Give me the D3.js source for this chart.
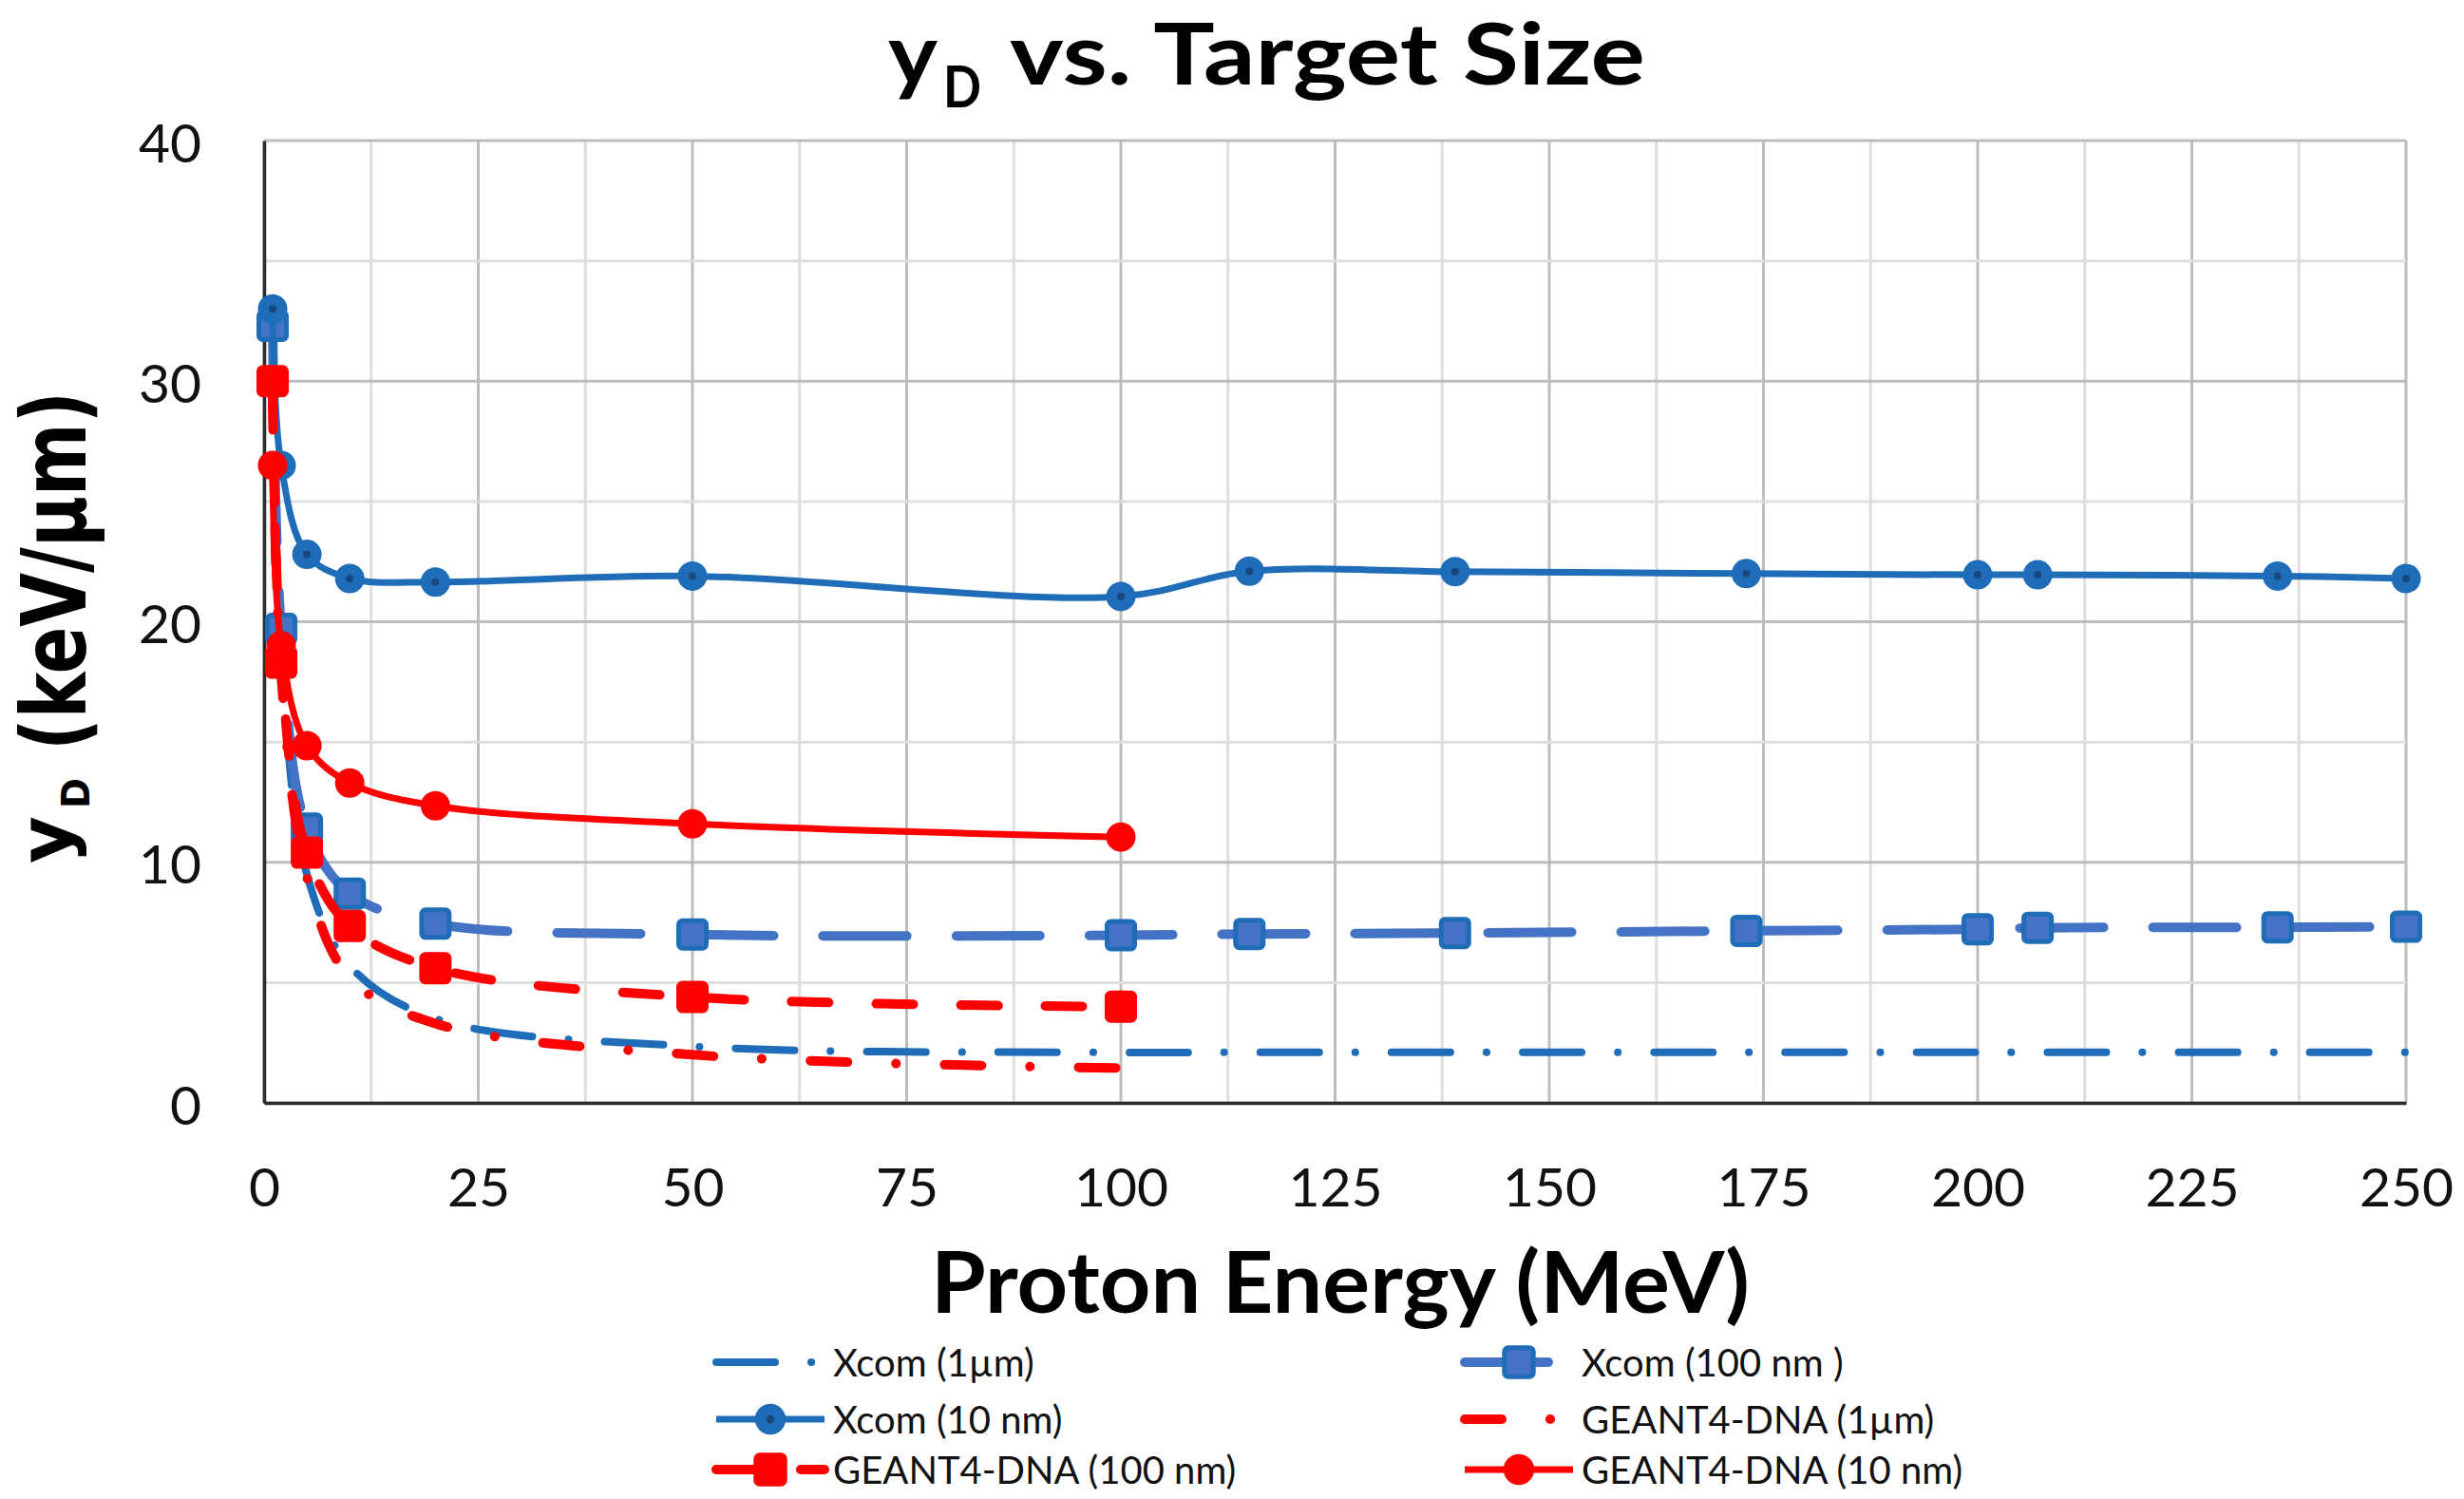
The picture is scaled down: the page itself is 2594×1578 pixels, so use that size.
<!DOCTYPE html>
<html>
<head>
<meta charset="utf-8">
<script src="https://cdn.jsdelivr.net/npm/d3@7"></script>
<style>
  html, body { margin: 0; padding: 0; background: #fff; }
  svg { display: block; }
</style>
</head>
<body>
<svg id="chart" width="2594" height="1578"></svg>
<script>
// ---------------- DATA ----------------
const xcomEnergy = [1, 2, 5, 10, 20, 50, 100, 115, 139, 173, 200, 207, 235, 250];
const xcom1um   = [32.0, 19.0, 9.5, 5.7, 3.5, 2.35, 2.1, 2.1, 2.1, 2.1, 2.1, 2.1, 2.1, 2.1];
const xcom100nm = [32.3, 19.7, 11.4, 8.7, 7.45, 7.0, 6.97, 7.02, 7.06, 7.15, 7.22, 7.28, 7.3, 7.32];
const xcom10nm  = [33.0, 26.5, 22.8, 21.8, 21.65, 21.9, 21.05, 22.1, 22.08, 22.0, 21.95, 21.95, 21.9, 21.8];

const geantEnergy = [1, 2, 5, 10, 20, 50, 100];
const geant1um   = [29.5, 17.8, 9.4, 5.2, 3.3, 2.0, 1.45];
const geant100nm = [30.0, 18.3, 10.4, 7.35, 5.6, 4.4, 4.0];
const geant10nm  = [26.5, 19.0, 14.85, 13.3, 12.35, 11.6, 11.05];

const xTicks = [0, 25, 50, 75, 100, 125, 150, 175, 200, 225, 250];
const yTicks = [0, 10, 20, 30, 40];
const seriesNames = ["Xcom (1\u00b5m)", "Xcom (100 nm )", "Xcom (10 nm)", "GEANT4-DNA (1\u00b5m)", "GEANT4-DNA (100 nm)", "GEANT4-DNA (10 nm)"];
const titleMain = "vs. Target Size";
const xTitle = "Proton Energy (MeV)";
const yTitleUnit = "(keV/\u00b5m)";

// ---------------- STYLES ----------------
const BLUE = "#1F6DB8", BLUE2 = "#4472C4", RED = "#FF0000";
const series = [
  { name: seriesNames[0], xs: xcomEnergy, ys: xcom1um, color: BLUE, width: 8, dash: "62,38,0.1,38", cap: "round", marker: null },
  { name: seriesNames[1], xs: xcomEnergy, ys: xcom100nm, color: BLUE2, width: 10, dash: "88,52", cap: "round", marker: "square", mfill: BLUE2, mstroke: BLUE },
  { name: seriesNames[2], xs: xcomEnergy, ys: xcom10nm, color: BLUE, width: 7, dash: null, cap: "round", marker: "circle", mfill: BLUE, mstroke: BLUE },
  { name: seriesNames[3], xs: geantEnergy, ys: geant1um, color: RED, width: 10, dash: "39,51,0.1,51", cap: "round", marker: null },
  { name: seriesNames[4], xs: geantEnergy, ys: geant100nm, color: RED, width: 10, dash: "39,50", cap: "round", marker: "square", mfill: RED, mstroke: RED },
  { name: seriesNames[5], xs: geantEnergy, ys: geant10nm, color: RED, width: 7, dash: null, cap: "round", marker: "circle", mfill: RED, mstroke: RED }
];

const svg = d3.select("#chart");
const plot = { left: 278, right: 2533, top: 148, bottom: 1161 };
const x = d3.scaleLinear().domain([0, 250]).range([plot.left, plot.right]);
const y = d3.scaleLinear().domain([0, 40]).range([plot.bottom, plot.top]);

// ---------------- GRID ----------------
const grid = svg.append("g");
const xMinor = d3.range(0, 250.01, 12.5);
const yMinor = d3.range(0, 40.01, 5);
grid.selectAll("line.vx").data(xMinor).enter().append("line")
  .attr("x1", d => x(d)).attr("x2", d => x(d)).attr("y1", plot.top).attr("y2", plot.bottom)
  .attr("stroke", d => (d % 25 === 0 ? "#bdbdbd" : "#dedede")).attr("stroke-width", 3);
grid.selectAll("line.hy").data(yMinor).enter().append("line")
  .attr("y1", d => y(d)).attr("y2", d => y(d)).attr("x1", plot.left).attr("x2", plot.right)
  .attr("stroke", d => (d % 10 === 0 ? "#bdbdbd" : "#dedede")).attr("stroke-width", 3);

// ---------------- AXES ----------------
const xAxis = d3.axisBottom(x).tickValues(xTicks).tickSize(0).tickPadding(0);
const xg = svg.append("g").attr("transform", `translate(0,${plot.bottom})`).call(xAxis);
xg.select(".domain").attr("stroke", "#2b2b2b").attr("stroke-width", 3.5);
xg.selectAll("text").attr("font-family", "Lato, 'Open Sans', sans-serif").attr("font-size", 57)
  .attr("fill", "#111").attr("dy", null).attr("y", 87).attr("dominant-baseline", "central");

const yAxis = d3.axisLeft(y).tickValues(yTicks).tickSize(0).tickPadding(0);
const yg = svg.append("g").attr("transform", `translate(${plot.left},0)`).call(yAxis);
yg.select(".domain").attr("stroke", "#2b2b2b").attr("stroke-width", 3.5);
yg.selectAll("text").attr("font-family", "Lato, 'Open Sans', sans-serif").attr("font-size", 57)
  .attr("fill", "#111").attr("x", -66).attr("dy", null).attr("dominant-baseline", "central");

// ---------------- SERIES ----------------
const line = d3.line().x(d => x(d[0])).y(d => y(d[1])).curve(d3.curveCatmullRom.alpha(0.5));
const layer = svg.append("g");

function drawMarker(g, type, cx, cy, s, scale) {
  const k = scale || 1;
  if (type === "circle") {
    g.append("circle").attr("cx", cx).attr("cy", cy).attr("r", 14.5 * k)
      .attr("fill", s.mfill).attr("stroke", s.mstroke).attr("stroke-width", 2);
    if (s.color === BLUE) {
      g.append("circle").attr("cx", cx).attr("cy", cy).attr("r", 4 * k).attr("fill", "#173f6e").attr("opacity", 0.8);
    }
  } else if (type === "square") {
    const h = 14.5 * k;
    g.append("rect").attr("x", cx - h).attr("y", cy - h).attr("width", 2 * h).attr("height", 2 * h)
      .attr("rx", 4).attr("fill", s.mfill).attr("stroke", s.mstroke).attr("stroke-width", 5);
  }
}

series.forEach(s => {
  const pts = s.xs.map((v, i) => [v, s.ys[i]]);
  const g = layer.append("g");
  g.append("path").attr("d", line(pts)).attr("fill", "none")
    .attr("stroke", s.color).attr("stroke-width", s.width)
    .attr("stroke-linecap", s.cap).attr("stroke-linejoin", "round")
    .attr("stroke-dasharray", s.dash);
  if (s.marker) {
    pts.forEach(p => drawMarker(g, s.marker, x(p[0]), y(p[1]), s));
  }
});

// ---------------- TITLES ----------------
const boldFont = "Lato, 'Open Sans', sans-serif";
svg.append("text").attr("x", 935).attr("y", 89).attr("font-family", boldFont).attr("font-weight", 700)
  .attr("font-size", 90).attr("fill", "#000").attr("textLength", 52).attr("lengthAdjust", "spacingAndGlyphs").text("y");
svg.append("text").attr("x", 993).attr("y", 113).attr("font-family", boldFont).attr("font-weight", 700)
  .attr("font-size", 62).attr("fill", "#000").attr("textLength", 40).attr("lengthAdjust", "spacingAndGlyphs").text("D");
svg.append("text").attr("x", 1063).attr("y", 89).attr("font-family", boldFont).attr("font-weight", 700)
  .attr("font-size", 90).attr("fill", "#000").attr("textLength", 669).attr("lengthAdjust", "spacingAndGlyphs").text(titleMain);

svg.append("text").attr("x", 980).attr("y", 1382).attr("font-family", boldFont).attr("font-weight", 700)
  .attr("font-size", 89).attr("fill", "#000").attr("textLength", 862).attr("lengthAdjust", "spacingAndGlyphs").text(xTitle);

const yt = svg.append("g").attr("transform", "translate(92,909) rotate(-90)");
const yFont = "'DejaVu Sans', sans-serif";
yt.append("text").attr("x", 0).attr("y", -18).attr("font-family", yFont).attr("font-weight", 700)
  .attr("font-size", 76).attr("fill", "#000").attr("textLength", 50).attr("lengthAdjust", "spacingAndGlyphs").text("y");
yt.append("text").attr("x", 58).attr("y", 2).attr("font-family", yFont).attr("font-weight", 700)
  .attr("font-size", 40).attr("fill", "#000").attr("textLength", 32).attr("lengthAdjust", "spacingAndGlyphs").text("D");
yt.append("text").attr("x", 119).attr("y", -2).attr("font-family", yFont).attr("font-weight", 700)
  .attr("font-size", 95).attr("fill", "#000").attr("textLength", 378).attr("lengthAdjust", "spacingAndGlyphs").text(yTitleUnit);

// ---------------- LEGEND ----------------
const legendRows = [1434, 1494, 1547];
const legendCols = [754, 1542];
const legendOrder = [0, 1, 2, 3, 4, 5];
const leg = svg.append("g");
legendOrder.forEach((si, k) => {
  const s = series[si];
  const col = k % 2, row = Math.floor(k / 2);
  const x0 = legendCols[col], yy = legendRows[row];
  const g = leg.append("g");
  g.append("line").attr("x1", x0).attr("x2", x0 + 114).attr("y1", yy).attr("y2", yy)
    .attr("stroke", s.color).attr("stroke-width", s.width).attr("stroke-linecap", s.dash ? "round" : "butt")
    .attr("stroke-dasharray", s.dash);
  if (s.marker) drawMarker(g, s.marker, x0 + 57, yy, s, 1.05);
  g.append("text").attr("x", x0 + 123).attr("y", yy).attr("dominant-baseline", "central")
    .attr("font-family", "Lato, 'Open Sans', sans-serif").attr("font-size", 40).attr("fill", "#111").text(s.name);
});
</script>
</body>
</html>
